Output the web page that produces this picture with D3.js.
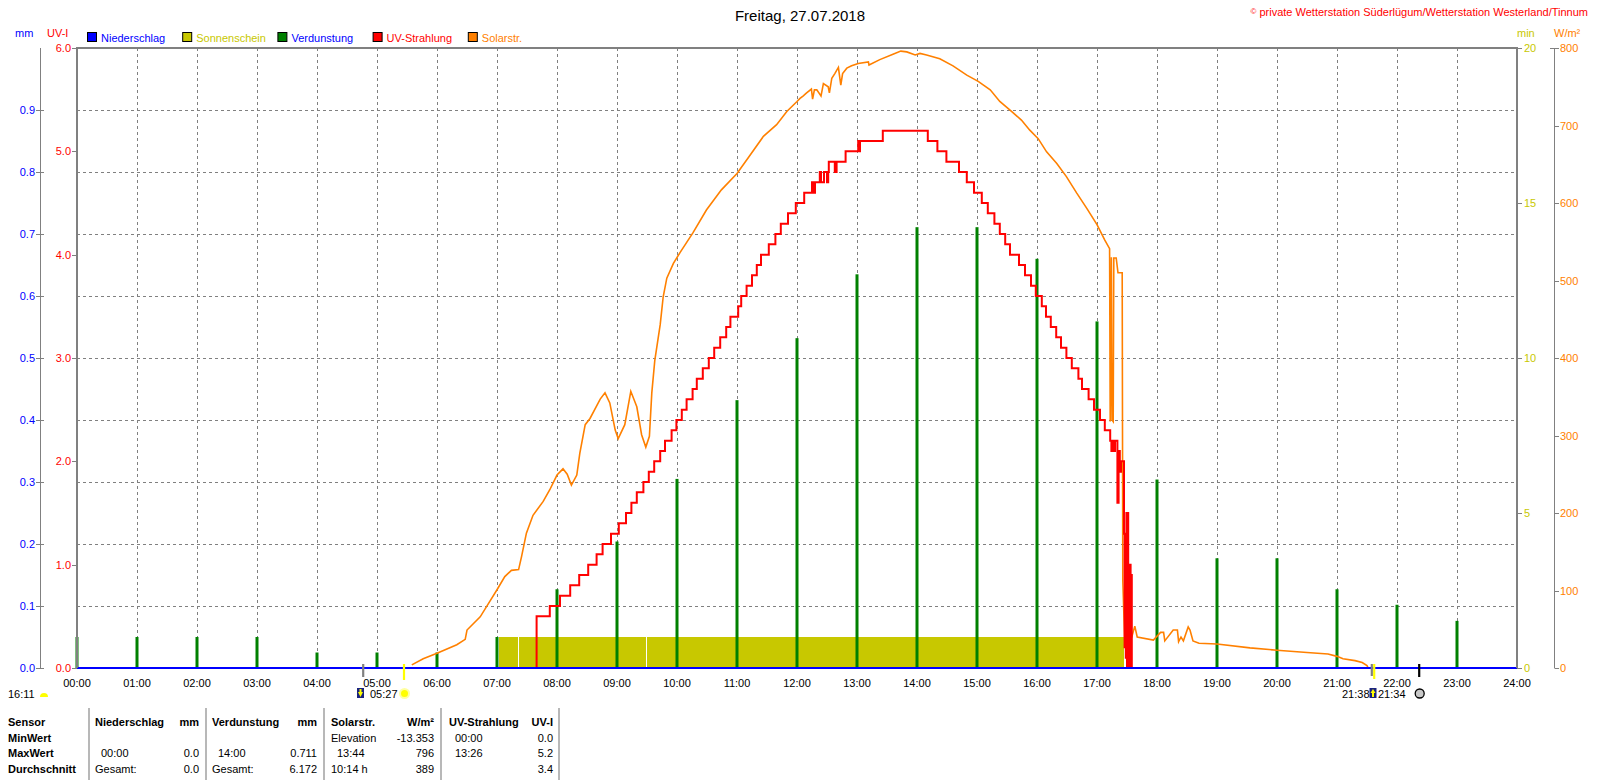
<!DOCTYPE html>
<html>
<head>
<meta charset="utf-8">
<script src="https://cdn.jsdelivr.net/npm/d3@7"></script>
<style>
  body { margin: 0; background: #fff; }
  svg { display: block; font-family: "Liberation Sans", Arial, sans-serif; font-size: 11px; }
</style>
</head>
<body>
<div id="chart"></div>
<script>
// ---- data ----
const hours = d3.range(0, 24);
// Verdunstung per hour, mm
const evaporation = [0.05, 0.05, 0.05, 0.05, 0.025, 0.025, 0.025, 0.05, 0.127, 0.204, 0.305, 0.432,
  0.532, 0.635, 0.711, 0.711, 0.66, 0.559, 0.304, 0.177, 0.177, 0.127, 0.102, 0.076];
// Niederschlag, mm
const rainTimes = [0, 24];
const rainValues = [0, 0];
// Sonnenschein periods [start h, end h], 1 min per minute
const sunshinePeriods = [[7.033, 7.35], [7.367, 9.483], [9.5, 17.45]];
const sunshineLevel = 1;
// UV-Strahlung steps [hour, UV-I]
const uvSteps = [[0, 0], [7.66, 0.5], [7.88, 0.6], [8.05, 0.7], [8.22, 0.8], [8.37, 0.9], [8.52, 1.0],
  [8.66, 1.1], [8.76, 1.2], [8.9, 1.3], [9.03, 1.4], [9.15, 1.5], [9.24, 1.6], [9.33, 1.7], [9.44, 1.8],
  [9.53, 1.9], [9.62, 2.0], [9.72, 2.1], [9.8, 2.2], [9.91, 2.3], [9.99, 2.4], [10.08, 2.5], [10.16, 2.6],
  [10.26, 2.7], [10.33, 2.8], [10.43, 2.9], [10.53, 3.0], [10.62, 3.1], [10.72, 3.2], [10.82, 3.3],
  [10.89, 3.4], [11.02, 3.5], [11.07, 3.6], [11.16, 3.7], [11.25, 3.8], [11.33, 3.9], [11.4, 4.0],
  [11.53, 4.1], [11.64, 4.2], [11.73, 4.3], [11.85, 4.4], [11.98, 4.5], [12.12, 4.6], [12.25, 4.7],
  [12.27, 4.6], [12.3, 4.7], [12.38, 4.8], [12.4, 4.7], [12.45, 4.8], [12.5, 4.7], [12.52, 4.8],
  [12.53, 4.9], [12.63, 4.8], [12.66, 4.9], [12.81, 5.0], [13.02, 5.1], [13.03, 5.0], [13.05, 5.1],
  [13.43, 5.2], [14.18, 5.1], [14.34, 5.0], [14.49, 4.9], [14.7, 4.8], [14.83, 4.7], [14.95, 4.6],
  [15.08, 4.5], [15.18, 4.4], [15.29, 4.3], [15.38, 4.2], [15.47, 4.1], [15.55, 4.0], [15.7, 3.9],
  [15.8, 3.8], [15.9, 3.7], [15.98, 3.6], [16.08, 3.5], [16.15, 3.4], [16.23, 3.3], [16.32, 3.2],
  [16.4, 3.1], [16.49, 3.0], [16.58, 2.9], [16.69, 2.8], [16.75, 2.7], [16.86, 2.6], [16.95, 2.5],
  [17.05, 2.4], [17.13, 2.3], [17.22, 2.2], [17.24, 2.1], [17.26, 2.2], [17.29, 2.1], [17.3, 2.2],
  [17.34, 1.6], [17.36, 2.1], [17.38, 1.9], [17.4, 2.0], [17.45, 1.3], [17.46, 0.2], [17.47, 1.2],
  [17.48, 0.1], [17.49, 1.5], [17.5, 0], [17.51, 1.5], [17.52, 0.3], [17.53, 1.0], [17.54, 0],
  [17.55, 1.0], [17.56, 0], [17.57, 0.9], [17.58, 0]];
// Solarstrahlung [hour, W/m²]
const solarPoints = [[5.58, 4], [5.77, 12], [6.0, 19], [6.33, 30], [6.47, 37], [6.5, 49], [6.72, 66],
  [6.88, 86], [7.0, 101], [7.13, 118], [7.24, 126], [7.36, 127], [7.41, 144], [7.49, 174], [7.6, 197],
  [7.77, 215], [7.88, 230], [8.0, 249], [8.1, 257], [8.17, 250], [8.24, 236], [8.33, 249], [8.38, 277],
  [8.47, 314], [8.55, 322], [8.72, 347], [8.8, 355], [8.88, 342], [8.97, 307], [9.02, 296], [9.13, 314],
  [9.23, 357], [9.33, 337], [9.41, 301], [9.48, 285], [9.54, 299], [9.58, 355], [9.63, 397], [9.72, 443],
  [9.77, 479], [9.83, 503], [9.94, 522], [10.05, 536], [10.27, 562], [10.49, 591], [10.74, 617],
  [11.0, 638], [11.22, 662], [11.44, 686], [11.66, 701], [11.83, 718], [12.0, 731], [12.05, 735],
  [12.1, 738], [12.16, 742], [12.24, 747], [12.26, 734], [12.29, 746], [12.33, 746], [12.4, 738],
  [12.44, 754], [12.52, 750], [12.54, 742], [12.58, 761], [12.63, 767], [12.69, 775], [12.73, 752],
  [12.76, 767], [12.83, 774], [12.91, 777], [13.02, 780], [13.19, 782], [13.2, 778], [13.38, 785],
  [13.6, 792], [13.73, 796], [13.83, 795], [13.97, 791], [14.05, 793], [14.16, 791], [14.38, 786],
  [14.6, 777], [14.83, 765], [15.02, 757], [15.22, 746], [15.38, 731], [15.58, 718], [15.74, 707],
  [15.88, 694], [16.02, 683], [16.16, 666], [16.33, 651], [16.49, 634], [16.66, 613], [16.83, 593],
  [17.0, 572], [17.13, 552], [17.21, 541], [17.22, 318], [17.24, 530], [17.25, 320], [17.27, 318],
  [17.28, 529], [17.32, 529], [17.35, 510], [17.42, 510], [17.43, 113], [17.46, 40], [17.58, 40],
  [17.63, 54], [17.67, 40], [17.94, 36], [18.06, 46], [18.11, 46], [18.13, 35], [18.27, 49], [18.34, 49],
  [18.36, 34], [18.4, 40], [18.44, 35], [18.52, 53], [18.55, 49], [18.6, 35], [18.7, 32], [19.0, 31],
  [19.55, 26], [20.0, 23], [20.5, 20], [20.85, 18], [21.0, 15], [21.1, 12], [21.3, 9.5], [21.42, 7],
  [21.5, 3], [21.52, 0]];

// axis ticks
const mmTicks = [0, 0.1, 0.2, 0.3, 0.4, 0.5, 0.6, 0.7, 0.8, 0.9];
const uvTicks = [0, 1, 2, 3, 4, 5, 6];
const minTicks = [0, 5, 10, 15, 20];
const wTicks = [0, 100, 200, 300, 400, 500, 600, 700, 800];
const timeTicks = d3.range(0, 25);

// legend
const legendNames = ["Niederschlag", "Sonnenschein", "Verdunstung", "UV-Strahlung", "Solarstr."];
const legendBoxColors = ["#0000ff", "#c8c800", "#008000", "#ff0000", "#ff8000"];
const legendTextColors = ["#0000ff", "#c8c800", "#0000ff", "#ff0000", "#ff8000"];

// statistics table
const tableRowLabels = ["Sensor", "MinWert", "MaxWert", "Durchschnitt"];
const tableHeader = ["Niederschlag", "mm", "Verdunstung", "mm", "Solarstr.", "W/m²", "UV-Strahlung", "UV-I"];
const tableRows = [
  ["", "", "", "", "Elevation", "-13.353", "00:00", "0.0"],
  ["00:00", "0.0", "14:00", "0.711", "13:44", "796", "13:26", "5.2"],
  ["Gesamt:", "0.0", "Gesamt:", "6.172", "10:14 h", "389", "", "3.4"]
];

// sun / moon events below the axis
const twilightMorning = 4.77, sunrise = 5.45, twilightEvening = 21.58, sunset = 21.62, moonrise = 22.37;

// ---- drawing ----
const width = 1600;
const height = 780;
const plotLeft = 77, plotRight = 1517, plotTop = 48, plotBottom = 668;

const svg = d3.select("#chart").append("svg").attr("width", width).attr("height", height);

const x = d3.scaleLinear().domain([0, 24]).range([plotLeft, plotRight]);
const yMm = d3.scaleLinear().domain([0, 1]).range([plotBottom, plotTop]);
const yUv = d3.scaleLinear().domain([0, 6]).range([plotBottom, plotTop]);
const yMin = d3.scaleLinear().domain([0, 20]).range([plotBottom, plotTop]);
const yW = d3.scaleLinear().domain([0, 800]).range([plotBottom, plotTop]);

// title + copyright
svg.append("text").attr("x", 800).attr("y", 20.5).attr("text-anchor", "middle")
  .style("font-size", "15px").attr("fill", "#000").text("Freitag, 27.07.2018");
const copy = svg.append("text").attr("x", 1588).attr("y", 16).attr("text-anchor", "end").attr("fill", "#ff0000");
copy.append("tspan").style("font-size", "8px").attr("dy", -2).text("©");
copy.append("tspan").attr("dy", 2).text(" private Wetterstation Süderlügum/Wetterstation Westerland/Tinnum");

// unit labels
svg.append("text").attr("x", 15).attr("y", 37).attr("fill", "#0000ff").text("mm");
svg.append("text").attr("x", 47).attr("y", 37).attr("fill", "#ff0000").text("UV-I");
svg.append("text").attr("x", 1517).attr("y", 37).attr("fill", "#c8c800").text("min");
svg.append("text").attr("x", 1554).attr("y", 37).attr("fill", "#ff8000").text("W/m²");

// legend
const legend = svg.selectAll(".legend").data(legendNames).enter().append("g")
  .attr("class", "legend").attr("transform", (d, i) => `translate(${87 + i * 95.2},0)`);
legend.append("rect").attr("x", 0.5).attr("y", 32.5).attr("width", 9).attr("height", 9)
  .attr("fill", (d, i) => legendBoxColors[i]).attr("stroke", "#000");
legend.append("text").attr("x", 14).attr("y", 41.5).attr("fill", (d, i) => legendTextColors[i]).text((d) => d);

// grid
svg.append("g").selectAll("line").data(timeTicks.slice(1, 24)).enter().append("line")
  .attr("x1", (d) => x(d) + 0.5).attr("x2", (d) => x(d) + 0.5)
  .attr("y1", plotTop).attr("y2", plotBottom)
  .attr("stroke", "#808080").attr("stroke-dasharray", "3,3");
svg.append("g").selectAll("line").data(mmTicks.slice(1)).enter().append("line")
  .attr("x1", plotLeft).attr("x2", plotRight)
  .attr("y1", (d) => Math.round(yMm(d)) + 0.5).attr("y2", (d) => Math.round(yMm(d)) + 0.5)
  .attr("stroke", "#808080").attr("stroke-dasharray", "3,3");

// sunshine
svg.append("g").selectAll("rect").data(sunshinePeriods).enter().append("rect")
  .attr("x", (d) => x(d[0])).attr("width", (d) => x(d[1]) - x(d[0]))
  .attr("y", yMin(sunshineLevel)).attr("height", plotBottom - yMin(sunshineLevel))
  .attr("fill", "#c8c800");

// evaporation bars
svg.append("g").selectAll("rect").data(hours).enter().append("rect")
  .attr("x", (d) => x(d) - 1.5).attr("width", 3)
  .attr("y", (d, i) => yMm(evaporation[i])).attr("height", (d, i) => plotBottom - yMm(evaporation[i]))
  .attr("fill", "#008000");

// solar radiation
svg.append("path").datum(solarPoints)
  .attr("d", d3.line().x((d) => x(d[0])).y((d) => yW(d[1])))
  .attr("fill", "none").attr("stroke", "#ff8000").attr("stroke-width", 1.6);

// UV steps
svg.append("path").datum(uvSteps)
  .attr("d", d3.line().curve(d3.curveStepAfter).x((d) => x(d[0])).y((d) => yUv(d[1])))
  .attr("fill", "none").attr("stroke", "#ff0000").attr("stroke-width", 2);

// precipitation line (baseline)
svg.append("path").datum(rainTimes.map((t, i) => [t, rainValues[i]]))
  .attr("d", d3.line().x((d) => x(d[0])).y((d) => yMm(d[1])))
  .attr("fill", "none").attr("stroke", "#0000ff").attr("stroke-width", 2);

// frame
svg.append("path")
  .attr("d", `M${plotLeft},${plotBottom}V${plotTop}H${plotRight}V${plotBottom}`)
  .attr("fill", "none").attr("stroke", "#808080").attr("stroke-width", 2);

// mm axis (left outer)
svg.append("line").attr("x1", 40.5).attr("x2", 40.5).attr("y1", plotTop).attr("y2", plotBottom).attr("stroke", "#808080");
const mmAxis = svg.append("g").selectAll("g").data(mmTicks).enter().append("g");
mmAxis.append("line").attr("x1", 36).attr("x2", 44)
  .attr("y1", (d) => Math.round(yMm(d)) + 0.5).attr("y2", (d) => Math.round(yMm(d)) + 0.5).attr("stroke", "#808080");
mmAxis.append("text").attr("x", 35).attr("y", (d) => yMm(d) + 4).attr("text-anchor", "end")
  .attr("fill", "#0000ff").text((d) => d.toFixed(1));

// UV axis (on plot frame)
const uvAxis = svg.append("g").selectAll("g").data(uvTicks).enter().append("g");
uvAxis.append("line").attr("x1", 72).attr("x2", plotLeft)
  .attr("y1", (d) => Math.round(yUv(d)) + 0.5).attr("y2", (d) => Math.round(yUv(d)) + 0.5).attr("stroke", "#808080");
uvAxis.append("text").attr("x", 71).attr("y", (d) => yUv(d) + 4).attr("text-anchor", "end")
  .attr("fill", "#ff0000").text((d) => d.toFixed(1));

// min axis (on right frame)
const minAxis = svg.append("g").selectAll("g").data(minTicks).enter().append("g");
minAxis.append("line").attr("x1", plotRight).attr("x2", 1522)
  .attr("y1", (d) => Math.round(yMin(d)) + 0.5).attr("y2", (d) => Math.round(yMin(d)) + 0.5).attr("stroke", "#808080");
minAxis.append("text").attr("x", 1524).attr("y", (d) => yMin(d) + 4)
  .attr("fill", "#c8c800").text((d) => d);

// W/m² axis (right outer)
svg.append("line").attr("x1", 1554.5).attr("x2", 1554.5).attr("y1", plotTop).attr("y2", plotBottom).attr("stroke", "#808080");
const wAxis = svg.append("g").selectAll("g").data(wTicks).enter().append("g");
wAxis.append("line").attr("x1", (d) => (d === 800 ? 1550 : 1554.5)).attr("x2", 1559)
  .attr("y1", (d) => Math.round(yW(d)) + 0.5).attr("y2", (d) => Math.round(yW(d)) + 0.5).attr("stroke", "#808080");
wAxis.append("text").attr("x", 1560).attr("y", (d) => yW(d) + 4)
  .attr("fill", "#ff8000").text((d) => d);

// time axis labels
svg.append("g").selectAll("text").data(timeTicks).enter().append("text")
  .attr("x", (d) => x(d)).attr("y", 687).attr("text-anchor", "middle").attr("fill", "#000")
  .text((d) => d3.format("02")(d) + ":00");

// sun / moon markers
function mark(t, color, y2) {
  svg.append("line").attr("x1", x(t)).attr("x2", x(t)).attr("y1", 664).attr("y2", y2)
    .attr("stroke", color).attr("stroke-width", 2.2);
}
mark(twilightMorning, "#808080", 677);
mark(sunrise, "#ffff00", 680);
mark(twilightEvening, "#808080", 676);
mark(sunset, "#ffff00", 679);
mark(moonrise, "#000000", 677);

// sunshine duration
svg.append("text").attr("x", 8).attr("y", 698).attr("fill", "#000").text("16:11");
svg.append("path").attr("d", "M40,697 A4,4 0 0 1 48,697 Z").attr("fill", "#ffff00");

function riseIcon(x0, up) {
  svg.append("rect").attr("x", x0).attr("y", 688).attr("width", 7).attr("height", 10).attr("fill", "#1a237e");
  svg.append("path")
    .attr("d", up ? `M${x0 + 3.5},689 L${x0 + 6},693 L${x0 + 4.5},693 L${x0 + 4.5},697 L${x0 + 2.5},697 L${x0 + 2.5},693 L${x0 + 1},693 Z`
                  : `M${x0 + 3.5},697 L${x0 + 6},692 L${x0 + 4.5},692 L${x0 + 4.5},689 L${x0 + 2.5},689 L${x0 + 2.5},692 L${x0 + 1},692 Z`)
    .attr("fill", "#ffff00");
}
riseIcon(357, false);
svg.append("text").attr("x", 370).attr("y", 698).attr("fill", "#000").text("05:27");
svg.append("circle").attr("cx", 404.5).attr("cy", 693.5).attr("r", 5.5).attr("fill", "#ffffa0");
svg.append("circle").attr("cx", 404.5).attr("cy", 693.5).attr("r", 3.5).attr("fill", "#ffff00");

svg.append("text").attr("x", 1342).attr("y", 698).attr("fill", "#000").text("21:38");
riseIcon(1369.5, true);
svg.append("text").attr("x", 1378).attr("y", 698).attr("fill", "#000").text("21:34");
svg.append("circle").attr("cx", 1419.7).attr("cy", 693.5).attr("r", 4.5)
  .attr("fill", "#c8c8c8").attr("stroke", "#000").attr("stroke-width", 1.3);

// statistics table
const rowY = [726, 741.5, 757, 772.5];
const colLeft = [95, 212, 331, 449];
const colRight = [199, 317, 434, 553];
const separators = [89, 206, 324, 441, 559];

svg.append("g").selectAll("line").data(separators).enter().append("line")
  .attr("x1", (d) => d).attr("x2", (d) => d).attr("y1", 708).attr("y2", 780)
  .attr("stroke", "#a0a0a0").attr("stroke-width", 1.5);

svg.append("g").selectAll("text").data(tableRowLabels).enter().append("text")
  .attr("x", 8).attr("y", (d, i) => rowY[i]).style("font-weight", "bold").attr("fill", "#000").text((d) => d);

tableHeader.forEach((h, i) => {
  const c = Math.floor(i / 2);
  svg.append("text").attr("x", i % 2 === 0 ? colLeft[c] : colRight[c]).attr("y", rowY[0])
    .attr("text-anchor", i % 2 === 0 ? "start" : "end")
    .style("font-weight", "bold").attr("fill", "#000").text(h);
});

tableRows.forEach((row, r) => {
  row.forEach((v, i) => {
    if (!v) return;
    const c = Math.floor(i / 2);
    const isTime = /^\d\d:\d\d$/.test(v);
    svg.append("text")
      .attr("x", i % 2 === 0 ? colLeft[c] + (isTime ? 6 : 0) : colRight[c])
      .attr("y", rowY[r + 1])
      .attr("text-anchor", i % 2 === 0 ? "start" : "end")
      .attr("fill", "#000").text(v);
  });
});
</script>
</body>
</html>
